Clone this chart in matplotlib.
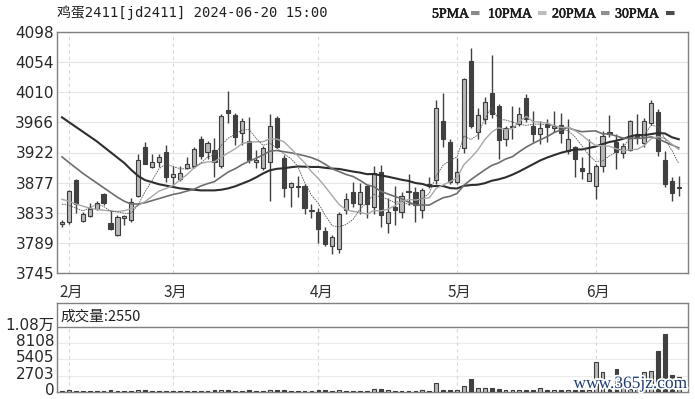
import matplotlib.pyplot as plt
import matplotlib.transforms as mtransforms
import matplotlib.patheffects as pe
import numpy as np
import pandas as pd

plt.rcParams['font.family'] = ['DejaVu Sans', 'Noto Sans CJK SC']

# daily bars, 2024-01-31 .. 2024-06-20
opens = [3817, 3819, 3881, 3821, 3829, 3839, 3861, 3818, 3801, 3826,
         3822, 3858, 3930, 3900, 3908, 3922, 3886, 3883, 3899, 3902,
         3942, 3922, 3925, 3901, 3984, 3976, 3950, 3939, 3908, 3899,
         3908, 3972, 3913, 3871, 3871, 3872, 3838, 3834, 3806, 3784,
         3780, 3837, 3863, 3846, 3872, 3842, 3893, 3818, 3842, 3835,
         3865, 3864, 3838, 3873, 3881, 3968, 3937, 3879, 3928, 4055,
         3952, 3970, 4009, 3989, 3941, 3959, 3963, 4002, 3961, 3949,
         3963, 3958, 3962, 3923, 3929, 3899, 3880, 3873, 3901, 3951,
         3937, 3921, 3925, 3944, 3935, 3964, 3981, 3910, 3880, 3869]
highs = [3823, 3866, 3882, 3835, 3848, 3851, 3862, 3837, 3830, 3830,
         3855, 3920, 3937, 3920, 3919, 3932, 3901, 3901, 3915, 3929,
         3945, 3938, 3943, 3978, 4011, 3980, 3972, 3974, 3925, 3931,
         3978, 3975, 3918, 3879, 3887, 3875, 3846, 3840, 3812, 3801,
         3835, 3862, 3879, 3877, 3874, 3901, 3903, 3855, 3872, 3863,
         3890, 3871, 3870, 3886, 3998, 4009, 3942, 3913, 4030, 4074,
         3986, 4003, 4064, 3992, 3961, 3990, 3988, 4007, 3983, 3967,
         3970, 3982, 3980, 3971, 3931, 3915, 3942, 3904, 3953, 3976,
         3948, 3935, 3969, 3978, 3972, 3998, 3985, 3923, 3886, 3887]
lows = [3812, 3817, 3833, 3819, 3827, 3837, 3845, 3808, 3799, 3816,
        3820, 3857, 3904, 3899, 3900, 3879, 3872, 3880, 3897, 3899,
        3912, 3912, 3885, 3899, 3965, 3933, 3933, 3906, 3899, 3896,
        3850, 3928, 3857, 3842, 3857, 3832, 3826, 3789, 3784, 3773,
        3775, 3832, 3842, 3831, 3825, 3831, 3813, 3804, 3815, 3826,
        3845, 3820, 3826, 3870, 3876, 3930, 3876, 3876, 3921, 3958,
        3942, 3963, 3972, 3912, 3931, 3941, 3961, 3966, 3937, 3934,
        3937, 3952, 3935, 3920, 3886, 3882, 3880, 3853, 3893, 3944,
        3898, 3913, 3923, 3934, 3929, 3962, 3917, 3871, 3851, 3858]
closes = [3819, 3865, 3846, 3832, 3839, 3848, 3848, 3810, 3827, 3829,
          3849, 3911, 3905, 3908, 3915, 3886, 3890, 3891, 3904, 3927,
          3916, 3936, 3907, 3975, 3979, 3944, 3967, 3911, 3910, 3928,
          3960, 3930, 3870, 3877, 3872, 3840, 3836, 3810, 3788, 3797,
          3832, 3853, 3848, 3863, 3846, 3892, 3830, 3835, 3838, 3858,
          3864, 3844, 3867, 3876, 3986, 3942, 3878, 3893, 4029, 3960,
          3976, 3995, 3978, 3940, 3957, 3961, 3978, 3970, 3949, 3957,
          3959, 3961, 3950, 3941, 3912, 3895, 3892, 3902, 3945, 3949,
          3922, 3931, 3967, 3946, 3968, 3994, 3923, 3876, 3862, 3871]
volumes = [180, 260, 240, 200, 190, 210, 230, 250, 220, 200,
           210, 280, 260, 200, 190, 240, 210, 200, 190, 230,
           220, 210, 250, 280, 260, 240, 220, 250, 200, 210,
           280, 260, 250, 220, 200, 240, 210, 260, 250, 230,
           280, 230, 220, 210, 240, 450, 500, 250, 230, 220,
           210, 240, 260, 220, 1500, 400, 350, 300, 1000, 2230,
           600, 650, 700, 550, 300, 250, 300, 400, 350, 700,
           400, 350, 300, 300, 250, 300, 300, 5000, 3300, 500,
           3770, 2300, 500, 500, 3300, 3500, 6800, 9580, 2770, 2550]

# moving average values before a full window exists
ma5_head = [3846, 3844, 3840, 3836]
ma10_head = [3853, 3850, 3846, 3843, 3840, 3838, 3837, 3836, 3835]
ma20_head = [3915, 3907, 3899, 3891, 3884, 3877, 3870, 3863, 3856, 3850,
             3846, 3846, 3848, 3851, 3854, 3857, 3860, 3862, 3865]
ma30_head = [3973, 3966, 3959, 3952, 3945, 3938, 3930, 3922, 3914, 3906,
             3896, 3887, 3881, 3878, 3875, 3873, 3871, 3869, 3868, 3867,
             3866, 3866, 3866, 3867, 3869, 3872, 3876, 3880, 3885]

month_pos = [1, 16, 37, 57, 77]
month_labels = ['2月', '3月', '4月', '5月', '6月']
price_ticks = [3745, 3789.125, 3833.25, 3877.375, 3921.5, 3965.625, 4009.75, 4053.875, 4098]
price_labels = ['3745', '3789', '3833', '3877', '3922', '3966', '4010', '4054', '4098']
vol_ticks = [0, 2702.5, 5405, 8107.5, 10810]
vol_labels = ['0', '2703', '5405', '8108', '1.08万']
last_volume = 2550

W, H = 695, 399


def moving_average(n, head):
    ma = pd.Series(closes, dtype=float).rolling(n).mean().to_numpy()
    ma[:n - 1] = head
    return ma


def fx(x):
    return x / W


def fy(y):
    return 1 - y / H


fig = plt.figure(figsize=(W / 100, H / 100), dpi=100)
ax = fig.add_axes([fx(57), fy(273), fx(688) - fx(57), fy(32) - fy(273)])
axv = fig.add_axes([fx(57), fy(392), fx(688) - fx(57), fy(303) - fy(392)])

o = np.array(opens)
c = np.array(closes)
h = np.array(highs)
l = np.array(lows)
v = np.array(volumes)
idx = np.arange(len(o))
up = c >= o

up_fill, up_edge, down_col = '#b8b8b8', '#3c3c3c', '#404040'

## price panel
for p in price_ticks:
    ax.axhline(p, color='#e6e6e6', lw=0.8, zorder=0)
for m in month_pos:
    ax.axvline(m, color='#d8d8d8', lw=0.8, ls=(0, (3, 3)), zorder=0)

ax.vlines(idx, l, h, color=down_col, lw=1.0, zorder=2)
body_h = np.maximum(np.abs(c - o), 0.9)
body_b = np.minimum(o, c)
ax.bar(idx[up], body_h[up], bottom=body_b[up], width=0.6,
       facecolor=up_fill, edgecolor=up_edge, lw=0.8, zorder=3)
ax.bar(idx[~up], body_h[~up], bottom=body_b[~up], width=0.6,
       facecolor=down_col, edgecolor=down_col, lw=0.8, zorder=3)

ax.plot(idx, moving_average(30, ma30_head), color='#2e2e2e', lw=1.5, zorder=4)
ax.plot(idx, moving_average(20, ma20_head), color='#6e6e6e', lw=1.2, zorder=4)
ax.plot(idx, moving_average(10, ma10_head), color='#a8a8a8', lw=1.0, zorder=4)
ax.plot(idx, moving_average(5, ma5_head), color='#5a5a5a', lw=0.6, ls=(0, (2, 1)), zorder=4)

ax.set_xlim(-0.72, 90.33)
ax.set_ylim(3745, 4098)
ax.set_yticks(price_ticks)
ax.set_yticklabels(price_labels, fontsize=11, color='#282828')
ax.set_xticks([])
ax.tick_params(axis='y', length=0, pad=2)
for s in ax.spines.values():
    s.set_color('#808080')
    s.set_linewidth(1.0)

month_shift = mtransforms.ScaledTranslation(0, -0.11, fig.dpi_scale_trans)
for m, lab in zip(month_pos, month_labels):
    ax.text(m + 0.4, 3745, lab, ha='center', va='top', fontsize=11,
            color='#303030', family=['Noto Sans CJK SC'],
            transform=ax.transData + month_shift, clip_on=False)

## volume panel
for vt in vol_ticks[1:4]:
    axv.axhline(vt, color='#ececec', lw=0.8, zorder=0)
for m in month_pos:
    axv.axvline(m, ymax=10810 / 14800, color='#d8d8d8', lw=0.8, ls=(0, (3, 3)), zorder=0)
axv.axhline(10810, color='#808080', lw=1.0, zorder=1)
axv.bar(idx[up], v[up], width=0.55, facecolor=up_fill, edgecolor=up_edge, lw=0.8, zorder=3)
axv.bar(idx[~up], v[~up], width=0.55, facecolor=down_col, edgecolor=down_col, lw=0.8, zorder=3)
axv.set_xlim(-0.72, 90.33)
axv.set_ylim(0, 14800)
axv.set_yticks(vol_ticks)
axv.set_yticklabels(vol_labels, fontsize=11, color='#282828')
axv.set_xticks([])
axv.tick_params(axis='y', length=0, pad=2)
shift = mtransforms.ScaledTranslation(0, 0.03, fig.dpi_scale_trans)
for lab in axv.get_yticklabels():
    lab.set_transform(lab.get_transform() + shift)
for s in axv.spines.values():
    s.set_color('#808080')
    s.set_linewidth(1.0)
axv.text(0.005, 0.85, '成交量:%d' % last_volume, transform=axv.transAxes,
         fontsize=10.5, color='#202020', va='center', ha='left',
         family=['Noto Sans CJK SC', 'DejaVu Sans'])

## header
fig.text(fx(57), fy(13), '鸡蛋2411[jd2411] 2024-06-20 15:00', fontsize=10,
         family=['DejaVu Sans Mono', 'Noto Sans CJK SC'], color='#202020',
         ha='left', va='center')
legend = [('5PMA', 432, 470, '#8a8a8a'), ('10PMA', 488, 537, '#bdbdbd'),
          ('20PMA', 552, 600, '#8f8f8f'), ('30PMA', 615, 665, '#4a4a4a')]
for name, tx, mx, col in legend:
    fig.text(fx(tx), fy(14), name, fontsize=10, family='Liberation Serif',
             color='#1a1a1a', ha='left', va='center',
             path_effects=[pe.withStroke(linewidth=0.4, foreground='#1a1a1a')])
    fig.text(fx(mx), fy(13), '▬', fontsize=8, color=col, ha='left', va='center')

# site watermark
fig.text(fx(630), fy(384), 'www.365jz.com', fontsize=12.5, family='Liberation Serif',
         color='#1f3c78', ha='center', va='center',
         path_effects=[pe.withStroke(linewidth=2.5, foreground='white')])

fig.savefig('out.png', dpi=100, facecolor='white')
